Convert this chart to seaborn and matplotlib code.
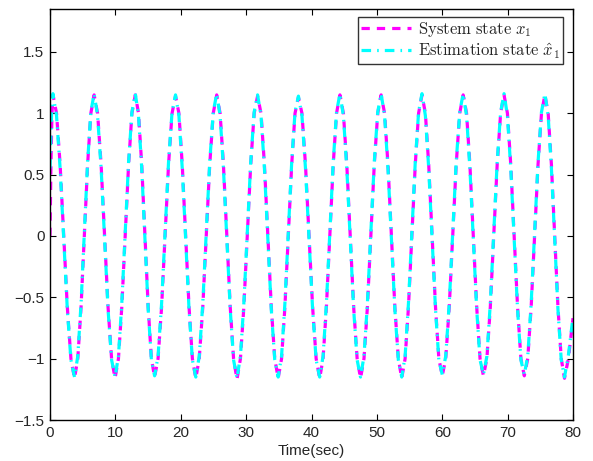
import matplotlib
matplotlib.use("Agg")
import matplotlib.pyplot as plt
import seaborn as sns
import pandas as pd

# ---- data ----
time = [
    0.0, 0.15, 0.3, 0.45,
    1.0, 1.55, 2.1, 2.65, 3.2, 3.75,
    4.25, 4.75, 5.25, 5.75, 6.25, 6.75,
    7.28, 7.82, 8.35, 8.88, 9.42, 9.95,
    10.47, 10.98, 11.5, 12.02, 12.53, 13.05,
    13.54, 14.03, 14.53, 15.02, 15.51, 16.0,
    16.53, 17.07, 17.6, 18.13, 18.67, 19.2,
    19.72, 20.23, 20.75, 21.27, 21.78, 22.3,
    22.83, 23.37, 23.9, 24.43, 24.97, 25.5,
    26.02, 26.53, 27.05, 27.57, 28.08, 28.6,
    29.13, 29.65, 30.18, 30.7, 31.23, 31.75,
    32.28, 32.8, 33.33, 33.85, 34.38, 34.9,
    35.42, 35.93, 36.45, 36.97, 37.48, 38.0,
    38.54, 39.08, 39.63, 40.17, 40.71, 41.25,
    41.77, 42.28, 42.8, 43.32, 43.83, 44.35,
    44.88, 45.4, 45.93, 46.45, 46.98, 47.5,
    48.03, 48.55, 49.08, 49.6, 50.13, 50.65,
    51.18, 51.7, 52.23, 52.75, 53.28, 53.8,
    54.32, 54.83, 55.35, 55.87, 56.38, 56.9,
    57.42, 57.93, 58.45, 58.97, 59.48, 60.0,
    60.53, 61.07, 61.6, 62.13, 62.67, 63.2,
    63.72, 64.23, 64.75, 65.27, 65.78, 66.3,
    66.83, 67.35, 67.88, 68.4, 68.93, 69.45,
    69.97, 70.48, 71.0, 71.52, 72.03, 72.55,
    73.08, 73.6, 74.13, 74.65, 75.18, 75.7,
    76.2, 76.7, 77.2, 77.7, 78.2, 78.7,
    79.3, 80.0,
]

system_x1 = [
    0.0, 0.6, 1.0, 1.15,
    1.0, 0.58, 0.0, -0.58, -1.0, -1.16,
    -1.0, -0.58, 0.0, 0.58, 1.0, 1.15,
    1.0, 0.58, 0.0, -0.58, -1.0, -1.16,
    -1.0, -0.58, 0.0, 0.58, 1.0, 1.15,
    1.0, 0.58, 0.0, -0.58, -1.0, -1.15,
    -1.0, -0.58, 0.0, 0.58, 1.0, 1.14,
    1.0, 0.58, 0.0, -0.58, -1.0, -1.16,
    -1.0, -0.58, 0.0, 0.58, 1.0, 1.15,
    1.0, 0.58, 0.0, -0.58, -1.0, -1.17,
    -1.0, -0.58, 0.0, 0.58, 1.0, 1.14,
    1.0, 0.58, 0.0, -0.58, -1.0, -1.16,
    -1.0, -0.58, 0.0, 0.58, 1.0, 1.13,
    1.0, 0.58, 0.0, -0.58, -1.0, -1.16,
    -1.0, -0.58, 0.0, 0.58, 1.0, 1.15,
    1.0, 0.58, 0.0, -0.58, -1.0, -1.16,
    -1.0, -0.58, 0.0, 0.58, 1.0, 1.15,
    1.0, 0.58, 0.0, -0.58, -1.0, -1.16,
    -1.0, -0.58, 0.0, 0.58, 1.0, 1.15,
    1.0, 0.58, 0.0, -0.58, -1.0, -1.14,
    -1.0, -0.58, 0.0, 0.58, 1.0, 1.15,
    1.0, 0.58, 0.0, -0.58, -1.0, -1.14,
    -1.0, -0.58, 0.0, 0.58, 1.0, 1.15,
    1.0, 0.58, 0.0, -0.58, -1.0, -1.14,
    -1.0, -0.58, 0.0, 0.58, 1.0, 1.15,
    1.0, 0.58, 0.0, -0.58, -1.0, -1.16,
    -1.0, -0.67,
]

estimate_x1 = [
    0.55, 0.85, 1.08, 1.16,
    0.98, 0.55, -0.03, -0.6, -1.01, -1.15,
    -0.98, -0.55, 0.03, 0.6, 1.01, 1.16,
    0.98, 0.55, -0.03, -0.6, -1.01, -1.15,
    -0.98, -0.55, 0.03, 0.6, 1.01, 1.16,
    0.98, 0.55, -0.03, -0.6, -1.01, -1.14,
    -0.98, -0.55, 0.03, 0.6, 1.01, 1.15,
    0.98, 0.55, -0.03, -0.6, -1.01, -1.15,
    -0.98, -0.55, 0.03, 0.6, 1.01, 1.16,
    0.98, 0.55, -0.03, -0.6, -1.01, -1.16,
    -0.98, -0.55, 0.03, 0.6, 1.01, 1.15,
    0.98, 0.55, -0.03, -0.6, -1.01, -1.15,
    -0.98, -0.55, 0.03, 0.6, 1.01, 1.14,
    0.98, 0.55, -0.03, -0.6, -1.01, -1.15,
    -0.98, -0.55, 0.03, 0.6, 1.01, 1.16,
    0.98, 0.55, -0.03, -0.6, -1.01, -1.15,
    -0.98, -0.55, 0.03, 0.6, 1.01, 1.16,
    0.98, 0.55, -0.03, -0.6, -1.01, -1.15,
    -0.98, -0.55, 0.03, 0.6, 1.01, 1.16,
    0.98, 0.55, -0.03, -0.6, -1.01, -1.13,
    -0.98, -0.55, 0.03, 0.6, 1.01, 1.16,
    0.98, 0.55, -0.03, -0.6, -1.01, -1.13,
    -0.98, -0.55, 0.03, 0.6, 1.01, 1.16,
    0.98, 0.55, -0.03, -0.6, -1.01, -1.13,
    -0.98, -0.55, 0.03, 0.6, 1.01, 1.16,
    0.98, 0.55, -0.03, -0.6, -1.01, -1.15,
    -0.97, -0.66,
]

x_ticks = [0, 10, 20, 30, 40, 50, 60, 70, 80]
y_ticks = [-1.5, -1, -0.5, 0, 0.5, 1, 1.5]
y_tick_labels = ["\u22121.5", "\u22121", "\u22120.5", "0", "0.5", "1", "1.5"]
label_sys = r"$\mathrm{System\ state}\ x_1$"
label_est = r"$\mathrm{Estimation\ state}\ \hat{x}_1$"

# ---- styling ----
sns.set_theme(style="white")
plt.rcParams["font.family"] = ["Liberation Sans", "DejaVu Sans"]
plt.rcParams["mathtext.fontset"] = "cm"

df = pd.DataFrame({"time": time, "sys": system_x1, "est": estimate_x1})

fig = plt.figure(figsize=(5.93, 4.61), dpi=100)
ax = fig.add_axes([50 / 593, 1 - 420 / 461, 523 / 593, 411 / 461])

sns.lineplot(data=df, x="time", y="sys", ax=ax, color="#ff00ff", lw=2.3,
             linestyle=(0, (2.6, 2.2)), estimator=None, sort=False,
             label=label_sys)
sns.lineplot(data=df, x="time", y="est", ax=ax, color="#00ffff", lw=2.3,
             linestyle=(0, (3.0, 1.9, 0.5, 1.9)), estimator=None, sort=False,
             label=label_est)

ax.set_xlim(0, 80)
ax.set_ylim(-1.5, 1.85)
ax.set_xticks(x_ticks)
ax.set_xticklabels([str(v) for v in x_ticks])
ax.set_yticks(y_ticks)
ax.set_yticklabels(y_tick_labels)
ax.set_xlabel("Time(sec)", fontsize=11, labelpad=3)
ax.set_ylabel("")

for sp in ax.spines.values():
    sp.set_visible(True)
    sp.set_color("black")
    sp.set_linewidth(1.0)

ax.tick_params(axis="both", which="both", direction="in", length=4,
               width=0.8, color="black", labelsize=11, top=True, right=True,
               bottom=True, left=True, pad=4)

leg = ax.legend(loc="upper right", bbox_to_anchor=(0.981, 0.981),
                borderaxespad=0, frameon=True, fancybox=False, shadow=False,
                fontsize=12, handlelength=3.0, handletextpad=0.4,
                borderpad=0.2, labelspacing=0.1)
leg.get_frame().set_edgecolor("black")
leg.get_frame().set_linewidth(1.0)

fig.savefig("out.png", dpi=100)
